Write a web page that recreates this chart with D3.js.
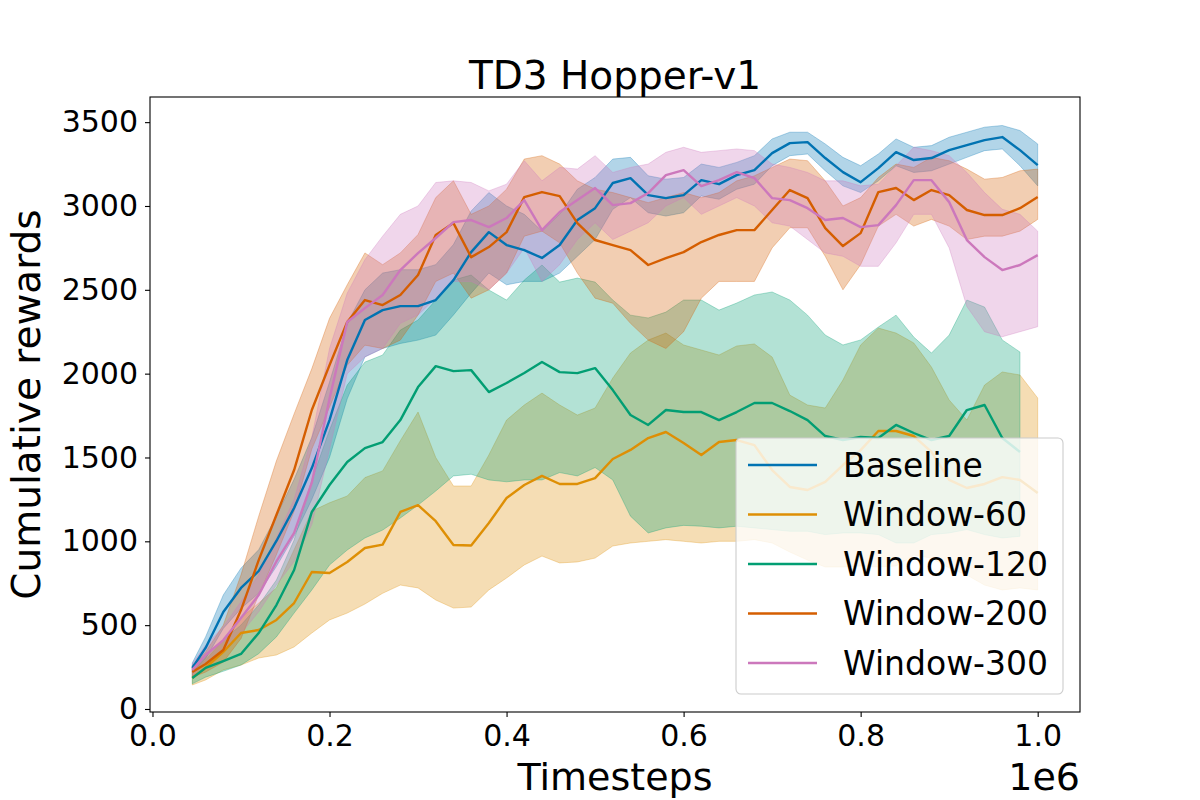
<!DOCTYPE html>
<html>
<head>
<meta charset="utf-8">
<script src="https://cdn.jsdelivr.net/npm/d3@7"></script>
<style>
  body { margin: 0; background: #fff; }
  svg { font-family: "DejaVu Sans", sans-serif; }
</style>
</head>
<body>
<svg id="chart" width="1200" height="800"></svg>
<script>
// timesteps (raw), shared by every run
const steps = [45000, 60000, 80000, 100000, 120000, 140000, 160000, 180000, 200000, 220000,
  240000, 260000, 280000, 300000, 320000, 340000, 360000, 380000, 400000, 420000,
  440000, 460000, 480000, 500000, 520000, 540000, 560000, 580000, 600000, 620000,
  640000, 660000, 680000, 700000, 720000, 740000, 760000, 780000, 800000, 820000,
  840000, 860000, 880000, 900000, 920000, 940000, 960000, 980000, 1000000]

const names = ["Baseline", "Window-60", "Window-120", "Window-200", "Window-300"]
const colors = ["#0173b2", "#de8f05", "#029e73", "#d55e00", "#cc78bc"]

const baselineMean = [245, 364, 578, 722, 823, 1002, 1199, 1437, 1723, 2081, 2320, 2379, 2403, 2403, 2439, 2558, 2725, 2844, 2767, 2737, 2690, 2767, 2916, 2987, 3137, 3166, 3065, 3047, 3065, 3154, 3130, 3184, 3214, 3315, 3375, 3381, 3286, 3202, 3142, 3226, 3321, 3274, 3286, 3333, 3363, 3393, 3411, 3333, 3244]
const baselineLow = [220, 300, 480, 600, 690, 850, 1030, 1250, 1500, 1850, 2100, 2150, 2180, 2200, 2230, 2350, 2480, 2600, 2530, 2550, 2550, 2600, 2700, 2800, 2980, 3050, 2960, 2940, 2960, 3060, 3040, 3100, 3130, 3240, 3300, 3310, 3210, 3120, 3080, 3150, 3240, 3200, 3210, 3250, 3290, 3330, 3340, 3240, 3120]
const baselineHigh = [275, 430, 680, 840, 950, 1150, 1370, 1620, 1950, 2300, 2500, 2600, 2620, 2620, 2650, 2770, 2970, 3080, 3000, 2950, 2850, 2950, 3100, 3170, 3280, 3290, 3180, 3160, 3170, 3250, 3230, 3260, 3300, 3400, 3440, 3440, 3370, 3290, 3240, 3310, 3400, 3350, 3360, 3410, 3440, 3470, 3480, 3450, 3370]

const w60Mean = [185, 245, 340, 453, 471, 531, 632, 817, 811, 877, 960, 980, 1175, 1216, 1120, 978, 975, 1109, 1258, 1336, 1390, 1342, 1342, 1377, 1491, 1545, 1616, 1652, 1586, 1515, 1592, 1604, 1574, 1425, 1324, 1306, 1354, 1455, 1544, 1658, 1658, 1628, 1533, 1366, 1318, 1342, 1383, 1366, 1288]
const w60Low = [143, 173, 233, 262, 304, 322, 370, 453, 531, 572, 626, 690, 739, 722, 650, 602, 608, 710, 781, 859, 912, 871, 877, 900, 972, 990, 1000, 1010, 1000, 990, 1000, 1000, 1010, 990, 936, 888, 847, 847, 853, 847, 853, 918, 900, 841, 799, 739, 710, 722, 710]
const w60High = [220, 292, 411, 543, 632, 722, 950, 1180, 1230, 1270, 1380, 1420, 1600, 1771, 1500, 1330, 1330, 1515, 1723, 1813, 1884, 1813, 1753, 1795, 1974, 2123, 2200, 2242, 2171, 2141, 2111, 2165, 2177, 2099, 1872, 1813, 1795, 1962, 2171, 2272, 2242, 2183, 2039, 1843, 1723, 1932, 2010, 1992, 1855]

// Window-120 stops one point early
const w120Mean = [185, 245, 286, 328, 453, 620, 829, 1175, 1336, 1473, 1556, 1592, 1723, 1920, 2045, 2015, 2021, 1890, 1944, 2004, 2069, 2009, 2003, 2033, 1902, 1753, 1694, 1783, 1771, 1771, 1723, 1771, 1825, 1825, 1777, 1723, 1628, 1604, 1622, 1616, 1694, 1646, 1604, 1628, 1783, 1813, 1616, 1533, null]
const w120Low = [150, 190, 225, 262, 330, 430, 572, 710, 859, 948, 1020, 1067, 1139, 1216, 1300, 1390, 1400, 1366, 1355, 1366, 1366, 1410, 1390, 1440, 1366, 1150, 1050, 1080, 1095, 1090, 1080, 1090, 1080, 1070, 1060, 1060, 1040, 1050, 1050, 1040, 990, 990, 1040, 1050, 1070, 1040, 1020, 1030, null]
const w120High = [262, 322, 411, 501, 620, 769, 1008, 1366, 1664, 1932, 2069, 2111, 2260, 2320, 2439, 2558, 2588, 2499, 2439, 2558, 2648, 2546, 2570, 2546, 2439, 2349, 2332, 2367, 2439, 2439, 2379, 2421, 2469, 2487, 2439, 2349, 2230, 2171, 2201, 2278, 2349, 2218, 2123, 2230, 2439, 2397, 2201, 2129, null]

const w200Mean = [220, 268, 352, 590, 888, 1157, 1425, 1783, 2051, 2308, 2439, 2409, 2469, 2588, 2827, 2898, 2695, 2755, 2844, 3053, 3083, 3059, 2898, 2797, 2767, 2737, 2648, 2689, 2725, 2785, 2827, 2856, 2856, 2976, 3095, 3047, 2868, 2761, 2838, 3083, 3107, 3035, 3095, 3065, 2976, 2946, 2946, 2987, 3053]
const w200Low = [190, 220, 280, 420, 680, 920, 1180, 1550, 1800, 2050, 2170, 2150, 2200, 2350, 2550, 2600, 2450, 2500, 2600, 2820, 2850, 2780, 2600, 2450, 2420, 2300, 2200, 2150, 2250, 2450, 2550, 2550, 2550, 2750, 2870, 2870, 2700, 2500, 2650, 2880, 2950, 2880, 2920, 2880, 2800, 2820, 2820, 2850, 2920]
const w200High = [250, 340, 500, 800, 1150, 1480, 1760, 2030, 2330, 2530, 2720, 2650, 2720, 2830, 3050, 3150, 2950, 3000, 3100, 3280, 3300, 3250, 3150, 3100, 3080, 3050, 3020, 3050, 3080, 3050, 3080, 3150, 3180, 3230, 3280, 3270, 3150, 3000, 3050, 3170, 3250, 3230, 3290, 3270, 3220, 3160, 3170, 3210, 3220]

const w300Mean = [233, 322, 411, 543, 680, 880, 1050, 1350, 1850, 2308, 2391, 2469, 2618, 2719, 2809, 2904, 2916, 2874, 2928, 3035, 2856, 2964, 3035, 3107, 3005, 3017, 3077, 3184, 3214, 3119, 3154, 3202, 3166, 3047, 3035, 2987, 2916, 2928, 2874, 2886, 3005, 3154, 3154, 3023, 2797, 2695, 2618, 2648, 2707]
const w300Low = [200, 270, 340, 450, 580, 740, 880, 1100, 1550, 2000, 2100, 2150, 2300, 2350, 2450, 2550, 2550, 2500, 2600, 2750, 2550, 2650, 2800, 2900, 2800, 2850, 2900, 3000, 3050, 2950, 3000, 3050, 3000, 2900, 2880, 2800, 2720, 2700, 2640, 2640, 2780, 2950, 2950, 2750, 2400, 2250, 2220, 2250, 2280]
const w300High = [270, 380, 490, 640, 800, 1020, 1250, 1620, 2150, 2480, 2680, 2820, 2950, 3000, 3140, 3150, 3140, 3090, 3130, 3270, 3150, 3230, 3220, 3300, 3200, 3230, 3250, 3320, 3350, 3320, 3330, 3340, 3330, 3250, 3230, 3200, 3150, 3150, 3120, 3130, 3240, 3350, 3330, 3300, 3200, 3080, 2980, 2950, 2850]

const xTicks = [0, 200000, 400000, 600000, 800000, 1000000]
const yTicks = [0, 500, 1000, 1500, 2000, 2500, 3000, 3500]

const runs = [
  { mean: baselineMean, low: baselineLow, high: baselineHigh },
  { mean: w60Mean, low: w60Low, high: w60High },
  { mean: w120Mean, low: w120Low, high: w120High },
  { mean: w200Mean, low: w200Low, high: w200High },
  { mean: w300Mean, low: w300Low, high: w300High }
]

const svg = d3.select("#chart")
const plotLeft = 150, plotRight = 1080, plotTop = 97, plotBottom = 712

const x = d3.scaleLinear().domain([-2800, 1047800]).range([plotLeft, plotRight])
const y = d3.scaleLinear().domain([-18, 3650]).range([plotBottom, plotTop])

const area = d3.area()
  .defined(d => d.lo != null)
  .x(d => x(d.t)).y0(d => y(d.lo)).y1(d => y(d.hi))
const line = d3.line()
  .defined(d => d.m != null)
  .x(d => x(d.t)).y(d => y(d.m))

const rows = runs.map(r => steps.map((t, i) => ({ t: t, m: r.mean[i], lo: r.low[i], hi: r.high[i] })))

// bands first (matplotlib puts fill_between under lines)
svg.append("g").selectAll("path")
  .data(rows)
  .join("path")
  .attr("d", area)
  .attr("fill", (d, i) => colors[i])
  .attr("fill-opacity", 0.3)
  .attr("stroke", (d, i) => colors[i])
  .attr("stroke-opacity", 0.3)
  .attr("stroke-width", 1)

svg.append("g").selectAll("path")
  .data(rows)
  .join("path")
  .attr("d", line)
  .attr("fill", "none")
  .attr("stroke", (d, i) => colors[i])
  .attr("stroke-width", 2.4)
  .attr("stroke-linejoin", "round")

// axes
const xAxis = svg.append("g")
  .attr("transform", `translate(0,${plotBottom})`)
  .call(d3.axisBottom(x).tickValues(xTicks).tickSize(5).tickPadding(8)
    .tickFormat(d => (d / 1e6).toFixed(1)))
const yAxis = svg.append("g")
  .attr("transform", `translate(${plotLeft},0)`)
  .call(d3.axisLeft(y).tickValues(yTicks).tickSize(5).tickPadding(7)
    .tickFormat(d3.format("d")))

for (const ax of [xAxis, yAxis]) {
  ax.select(".domain").remove()
  ax.selectAll(".tick line").attr("stroke", "#000").attr("stroke-width", 1.1)
  ax.selectAll(".tick text").attr("font-size", 30).attr("font-family", "DejaVu Sans").attr("fill", "#000")
}

svg.append("rect")
  .attr("x", plotLeft).attr("y", plotTop)
  .attr("width", plotRight - plotLeft).attr("height", plotBottom - plotTop)
  .attr("fill", "none").attr("stroke", "#000").attr("stroke-width", 1.1)

// texts
svg.append("text")
  .attr("x", (plotLeft + plotRight) / 2).attr("y", 89)
  .attr("text-anchor", "middle").attr("font-size", 39)
  .text("TD3 Hopper-v1")

svg.append("text")
  .attr("transform", `translate(40,${(plotTop + plotBottom) / 2}) rotate(-90)`)
  .attr("text-anchor", "middle").attr("font-size", 39)
  .text("Cumulative rewards")

svg.append("text")
  .attr("x", (plotLeft + plotRight) / 2).attr("y", 790)
  .attr("text-anchor", "middle").attr("font-size", 38)
  .text("Timesteps")

svg.append("text")
  .attr("x", plotRight).attr("y", 790)
  .attr("text-anchor", "end").attr("font-size", 38)
  .text("1e6")

// legend
const lg = svg.append("g").attr("transform", "translate(736,438)")
lg.append("rect")
  .attr("width", 327).attr("height", 256)
  .attr("rx", 5).attr("ry", 5)
  .attr("fill", "#fff").attr("fill-opacity", 0.8)
  .attr("stroke", "#cccccc").attr("stroke-width", 1.1)

const item = lg.selectAll("g.item")
  .data(names)
  .join("g")
  .attr("class", "item")
  .attr("transform", (d, i) => `translate(0,${27 + i * 49.5})`)

item.append("line")
  .attr("x1", 12).attr("x2", 81)
  .attr("stroke", (d, i) => colors[i])
  .attr("stroke-width", 2.4)

item.append("text")
  .attr("x", 107).attr("y", 11.5)
  .attr("font-size", 33)
  .text(d => d)
</script>
</body>
</html>
